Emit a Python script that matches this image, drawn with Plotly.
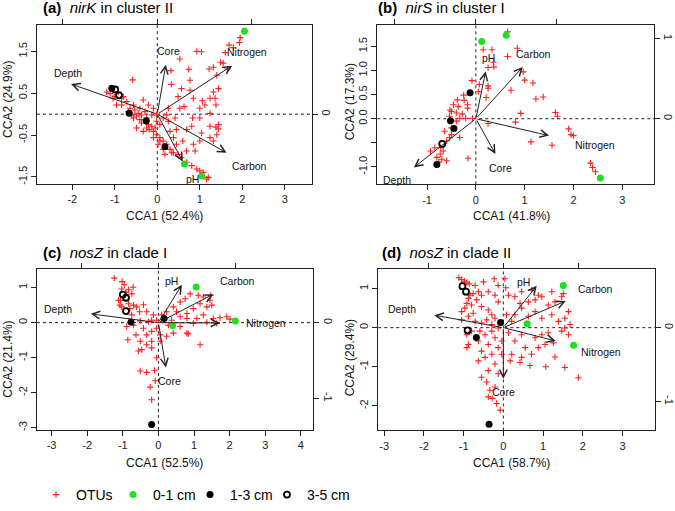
import plotly.graph_objects as go

# ---------------- DATA ----------------
var_names = ["Depth", "Core", "Nitrogen", "Carbon", "pH"]

# (a) nirK in cluster II
a_otu_x = [1.95, 1.93, 1.69, 1.79, 1.60, 1.49, 1.55, 1.32, 1.22, 1.65, 1.40, 0.93, 1.04, 0.53, 0.74, 0.32, 0.77, 0.33,
           -0.58, 1.44, 1.32, 1.24, 1.36, 1.38, 1.12, 1.00, 1.24, 0.63, 0.53, 0.83, 1.00, 0.81, 1.24, 1.38, 1.44, 1.04,
           1.24, 1.32, 1.00, 0.85, 0.89, 0.69, 0.60, 0.45, 0.38, 0.30, 0.26, 0.22, 0.42, -0.33, -0.41, -0.56, -0.72,
           -0.96, -0.80, -0.92, -0.84, -0.64, -0.53, -0.45, -0.37, -0.25, -0.21, -0.13, -0.09, -0.02, 0.06, 0.14, 0.22,
           0.30, 0.38, 0.49, 0.57, 0.69, 0.81, 0.93, 1.00, 1.08, 1.20, 1.16, -0.05, -0.19, 0.02, 0.14, 0.18, 0.34, -0.13,
           -0.29, -0.02, 0.06, -0.09, 0.26, -1.19, -1.11, -1.00, -1.04, -0.49, -0.33, -0.56, 0.57, 0.77, 0.49, 0.85,
           1.06, 1.44, 1.40, 0.69, 0.45, 0.14, -0.02, -0.21, -0.41, -0.84, -0.68, -0.60, -0.49, -0.37, -0.25, -0.09, 0.06]
a_otu_y = [1.83, 1.71, 1.65, 1.59, 1.47, 1.24, 1.22, 1.12, 1.08, 1.08, 0.93, 1.50, 1.49, 1.32, 1.07, 1.04, 0.81, 0.71,
           0.82, 0.61, 0.53, 0.38, 0.38, 0.22, 0.22, 0.14, 0.02, 0.18, 0.14, -0.09, -0.09, -0.29, -0.29, -0.31, -0.35,
           -0.45, -0.56, -0.64, -0.64, -0.72, -0.88, -0.88, -0.64, -0.72, -0.56, -0.41, -0.17, -0.02, -0.09, 0.34, 0.14,
           0.22, 0.30, 0.22, 0.42, 0.53, 0.38, 0.14, 0.10, 0.02, -0.02, -0.09, -0.25, -0.29, -0.41, -0.49, -0.56, -0.64,
           -0.72, -0.84, -0.92, -0.96, -1.04, -1.15, -1.23, -1.31, -1.35, -1.39, -1.51, -1.55, -0.33, -0.37, -0.72,
           -0.84, -0.96, -0.92, -0.02, 0.06, -0.17, -0.25, 0.14, 0.14, 0.53, 0.49, 0.42, 0.38, -0.33, -0.41, -0.09, 0.61,
           0.57, 0.42, 0.38, 0.32, -0.25, -0.49, -0.37, -0.37, -0.09, -0.02, 0.22, -0.13, 0.22, 0.06, -0.02, -0.05,
           -0.21, -0.33, -0.56, -0.64]
a_s01_x = [2.05, 0.64, 1.05]
a_s01_y = [1.98, -1.19, -1.48]
a_s13_x = [-0.66, -0.26, 0.18, -1.07]
a_s13_y = [0.02, -0.16, -0.78, 0.62]
a_s35_x = [-0.99, -0.90]
a_s35_y = [0.59, 0.45]
a_arrow_x = [-2.03, 0.20, 1.76, 1.63, 0.60]
a_arrow_y = [0.72, 1.18, 1.16, -0.92, -1.13]
a_label_x = [-2.10, 0.26, 2.10, 2.16, 0.83]
a_label_y = [0.99, 1.50, 1.49, -1.23, -1.55]

# (b) nirS in cluster I
b_otu_x = [0.65, 0.15, 0.33, 0.85, 0.65, 0.36, 0.37, 0.25, 0.97, 1.00, 1.17, -0.08, 0.07, 0.25, 0.25, 0.72, 1.23, 1.38,
           0.21, -0.25, -0.38, -0.24, -0.17, -0.50, -0.40, -0.28, -0.33, -0.21, -0.54, -0.07, 0.25, 0.81, 0.92, 1.63,
           1.67, 1.90, 1.95, 2.00, 1.56, 1.13, 2.35, 2.39, 2.45, -0.16, -0.33, -0.50, -0.64, -0.50, -0.54, -0.60, -0.72,
           -0.67, -0.73, -0.80, -0.70, -0.76, -0.93, -0.84, -0.60, -0.40, -0.46, -0.53, -0.36, 0.05, -0.17]
b_otu_y = [1.80, 1.43, 1.43, 1.46, 1.29, 1.17, 1.07, 1.06, 0.97, 0.80, 0.74, 0.79, 0.71, 0.68, 0.63, 0.59, 0.41, 0.45,
           0.44, 0.49, 0.39, 0.38, 0.29, 0.15, 0.12, 0.10, 0.01, 0.01, 0.05, 0.01, -0.10, -0.07, 0.11, 0.13, 0.05,
           -0.21, -0.33, -0.35, -0.55, -0.48, -0.92, -1.01, -1.10, -0.82, -0.39, -0.19, -0.26, -0.33, -0.39, -0.46,
           -0.60, -0.67, -0.73, -0.80, -0.84, -0.90, -0.67, -0.60, -0.87, -0.05, 0.29, 0.18, 0.25, 0.56, 0.22]
b_s01_x = [0.12, 0.62, 2.55]
b_s01_y = [1.60, 1.73, -1.23]
b_s13_x = [-0.12, -0.52, -0.45, -0.80]
b_s13_y = [0.54, -0.04, -0.20, -0.95]
b_s35_x = [-0.69]
b_s35_y = [-0.52]
b_arrow_x = [-1.27, 0.40, 1.50, 0.96, 0.20]
b_arrow_y = [-1.01, -0.73, -0.35, 1.07, 0.98]
b_label_x = [-1.61, 0.51, 2.45, 1.19, 0.25]
b_label_y = [-1.27, -1.02, -0.55, 1.34, 1.26]

# (c) nosZ in clade I
c_otu_x = [-1.24, -1.02, -0.96, -0.71, -0.84, -1.03, -1.06, -1.08, -0.84, -0.70, -0.61, -0.80, -0.75, -0.53, -0.42,
           -0.33, -0.14, -0.05, -0.19, -0.51, -0.70, -0.89, -0.86, -0.63, -0.42, -0.33, -0.19, -0.05, -0.51, -0.33,
           -0.47, -0.19, 0.05, 0.23, -0.56, -0.51, -0.33, -0.11, -0.09, -0.23, -0.19, 0.23, 0.42, 0.61, 0.75, 0.89,
           1.12, 1.26, 1.45, 1.50, 1.36, 1.17, 0.98, 0.80, 0.61, 0.80, 1.08, 1.26, 1.54, 1.73, 1.92, 2.01, 1.64, 1.36,
           0.98, 0.61, 0.80, 0.84, 0.42, 1.17, 0.28, 0.09, 0.37, 0.51, 1.47, -0.91, -0.75, -1.12, -1.03, -0.28, -0.19,
           -0.05, 0.05]
c_otu_y = [1.27, 1.17, 1.08, 1.01, 0.94, 0.96, 0.63, 0.50, 0.54, 0.50, 0.45, 0.40, 0.22, 0.31, 0.51, 0.31, 0.22, 0.07,
           0.07, 0.05, -0.07, -0.11, -0.49, -0.35, -0.16, -0.35, -0.25, -0.16, -0.53, -0.63, -0.77, -0.72, -0.53,
           -0.39, -0.81, -1.38, -1.42, -1.36, -1.66, -1.84, -2.20, 0.31, 0.45, 0.59, 0.68, 0.82, 0.78, 0.73, 0.64,
           0.50, 0.45, 0.54, 0.40, 0.26, 0.17, 0.12, 0.12, 0.22, 0.12, 0.14, 0.17, 0.10, -0.02, 0.01, -0.02, -0.11,
           -0.30, -0.32, -0.30, -0.63, -0.07, 0.22, 0.07, 0.31, 0.78, 0.87, 0.82, 0.64, 0.45, 0.03, -0.53, -1.00, -0.35]
c_s01_x = [1.06, 0.40, 2.16]
c_s01_y = [1.02, -0.08, 0.05]
c_s13_x = [0.16, -0.77, -0.19]
c_s13_y = [0.12, 0.02, -2.91]
c_s35_x = [-1.00, -0.91, -0.91]
c_s35_y = [0.80, 0.71, 0.33]
c_arrow_x = [-1.90, 0.21, 1.73, 1.54, 0.66]
c_arrow_y = [0.25, -1.28, -0.01, 0.81, 1.08]
c_label_x = [-2.83, 0.30, 3.02, 2.22, 0.37]
c_label_y = [0.38, -1.66, -0.01, 1.18, 1.19]

# (d) nosZ in clade II
d_otu_x = [-1.12, -1.05, -0.98, -0.92, -0.86, -0.71, -0.76, -0.88, -0.92, -0.80, -0.67, -0.55, -0.38, -0.23, 0.06, 0.13,
           -0.55, -0.38, -0.29, -0.76, -0.88, -1.05, -0.71, -0.55, -0.42, -0.21, -0.88, -0.92, -0.63, -0.46, -0.29,
           -0.21, -0.38, -0.55, -0.63, -0.46, -0.29, -0.13, -0.04, -0.04, -0.21, -0.38, -0.55, -0.42, -0.34, -0.38,
           -0.28, -0.21, -0.13, -0.08, -0.17, 0.21, 0.17, 0.46, 0.42, 0.71, 0.67, 1.07, 1.30, 1.89, 1.55, 0.29, 0.46,
           0.80, 0.97, 1.13, 1.47, 1.64, 1.68, 1.55, 1.39, 1.22, 0.97, 0.80, 0.63, 0.46, 0.29, 0.21, 0.97, 1.13, 1.30,
           1.47, 1.51, 1.22, 0.80, 0.63, 0.42, 0.29, 0.46, 0.71, 0.88, 1.64, 1.55, 1.26, 1.05, 0.88, 0.55, 0.13, 0.08,
           -0.13, -0.21, -0.63, -0.50, -0.13, 0.04, -0.92, -0.80, -0.59, -0.29, -0.13, -1.05, -0.97, -0.84]
d_otu_y = [1.28, 1.23, 1.19, 1.16, 1.12, 1.08, 0.87, 0.75, 0.62, 0.58, 0.71, 0.83, 0.92, 1.25, 1.02, 0.83, 0.54, 0.45,
           0.33, 0.37, 0.29, 0.20, 0.16, 0.12, 0.20, 0.24, -0.43, -0.51, -0.34, -0.18, -0.09, -0.26, -0.43, -0.60,
           -0.85, -0.76, -0.68, -0.51, -0.34, -0.68, -0.93, -1.10, -1.27, -1.39, -1.60, -1.77, -1.81, -1.52, -1.18,
           -2.11, -1.94, -0.68, -0.85, -0.76, -0.89, -0.68, -0.97, -1.00, -0.75, -1.28, -1.02, -0.34, -0.18, -0.26,
           -0.18, -0.13, -0.09, -0.18, 0.08, 0.24, 0.16, 0.33, 0.24, 0.41, 0.29, 0.50, 0.33, 0.16, 0.79, 0.58, 0.66,
           0.79, 0.87, 0.92, 0.71, 0.66, 0.62, 0.79, 0.92, 0.96, 0.83, 0.41, -0.01, -0.39, -0.43, -0.51, -0.51, -0.13,
           0.33, 0.66, 0.83, 0.92, 1.17, 1.08, 1.25, -0.18, -0.09, -0.09, 0.08, -0.01, 0.41, 0.50, 0.83]
d_s01_x = [1.51, 0.60, 1.77]
d_s01_y = [1.08, 0.10, -0.45]
d_s13_x = [-0.07, -0.68, -0.36]
d_s13_y = [0.13, -0.25, -2.47]
d_s35_x = [-1.03, -0.94, -0.90]
d_s35_y = [1.06, 0.92, -0.07]
d_arrow_x = [-1.74, 0.00, 1.32, 1.57, 0.84]
d_arrow_y = [0.32, -1.31, -0.34, 0.68, 1.07]
d_label_x = [-2.56, 0.00, 2.46, 2.32, 0.50]
d_label_y = [0.47, -1.65, -0.62, 1.00, 1.18]

titles = ["<b>(a)</b>\u00a0\u00a0<i>nirK</i> in cluster II",
          "<b>(b)</b>\u00a0\u00a0<i>nirS</i> in cluster I",
          "<b>(c)</b>\u00a0\u00a0<i>nosZ</i> in clade I",
          "<b>(d)</b>\u00a0\u00a0<i>nosZ</i> in clade II"]
xtitles = ["CCA1 (52.4%)", "CCA1 (41.8%)", "CCA1 (52.5%)", "CCA1 (58.7%)"]
ytitles = ["CCA2 (24.9%)", "CCA2 (17.3%)", "CCA2 (21.4%)", "CCA2 (29.4%)"]

x_tickvals = [[-2, -1, 0, 1, 2, 3], [-1, 0, 1, 2, 3], [-3, -2, -1, 0, 1, 2, 3, 4], [-3, -2, -1, 0, 1, 2, 3]]
x_ticktext = [["-2", "-1", "0", "1", "2", "3"], ["-1", "0", "1", "2", "3"],
              ["-3", "-2", "-1", "0", "1", "2", "3", "4"], ["-3", "-2", "-1", "0", "1", "2", "3"]]
y_tickvals = [[-1.5, -0.5, 0.5, 1.5], [-1.0, -0.5, 0.0, 0.5, 1.0, 1.5], [-3, -2, -1, 0, 1], [-2, -1, 0, 1]]
y_ticktext = [["-1.5", "-0.5", "0.5", "1.5"], ["-1.0", "", "0.0", "0.5", "1.0", "1.5"],
              ["-3", "-2", "-1", "0", "1"], ["-2", "-1", "0", "1"]]
sec_tickvals = [-1, 0, 1]
sec_ticktext = ["-1", "0", "1"]

legend_names = ["OTUs", "0-1 cm", "1-3 cm", "3-5 cm"]

panels = [
    (a_otu_x, a_otu_y, a_s01_x, a_s01_y, a_s13_x, a_s13_y, a_s35_x, a_s35_y, a_arrow_x, a_arrow_y, a_label_x, a_label_y),
    (b_otu_x, b_otu_y, b_s01_x, b_s01_y, b_s13_x, b_s13_y, b_s35_x, b_s35_y, b_arrow_x, b_arrow_y, b_label_x, b_label_y),
    (c_otu_x, c_otu_y, c_s01_x, c_s01_y, c_s13_x, c_s13_y, c_s35_x, c_s35_y, c_arrow_x, c_arrow_y, c_label_x, c_label_y),
    (d_otu_x, d_otu_y, d_s01_x, d_s01_y, d_s13_x, d_s13_y, d_s35_x, d_s35_y, d_arrow_x, d_arrow_y, d_label_x, d_label_y),
]

# ---------------- LAYOUT / STYLE ----------------
W, H = 675, 511
FONT = "Liberation Sans, Arial, Helvetica, sans-serif"
INK = "#222222"
boxes = [(37, 312, 25, 187), (377.3, 654, 25, 187.3), (37, 313.3, 273.3, 436.7), (378.3, 655, 273.3, 437.3)]
xranges = [(-2.83, 3.64), (-2.02, 3.65), (-3.41, 4.35), (-3.15, 3.82)]
yranges = [(-1.67, 2.14), (-1.36, 1.95), (-3.06, 1.53), (-2.63, 1.50)]
ratios = [0.4507, 0.6025, 0.4623, 0.529]
title_pos = [(41, 8), (376, 8), (41, 257), (380, 257)]
xtitle_pos = [(164, 219), (511, 219), (164, 470), (511, 470)]
ytitle_pos = [(8.5, 101), (350, 104), (8.5, 365), (350, 364)]

fig = go.Figure()
annotations = []
shapes = []
layout = {}

for i, pdata in enumerate(panels):
    (ox, oy, gx, gy, bx, by, hx, hy, arx, ary, lbx, lby) = pdata
    n = i + 1
    s = n + 4
    xr = "x" if n == 1 else f"x{n}"
    yr = "y" if n == 1 else f"y{n}"
    xk = "xaxis" if n == 1 else f"xaxis{n}"
    yk = "yaxis" if n == 1 else f"yaxis{n}"
    x0, x1, y0, y1 = boxes[i]
    show = (i == 0)

    fig.add_trace(go.Scatter(x=ox, y=oy, mode="markers", name=legend_names[0], showlegend=show,
                             xaxis=xr, yaxis=yr, hoverinfo="skip",
                             marker=dict(symbol="cross-thin", size=4.5, color="#ff2020",
                                         line=dict(color="#ff2020", width=1.1))))
    fig.add_trace(go.Scatter(x=gx, y=gy, mode="markers", name=legend_names[1], showlegend=show,
                             xaxis=xr, yaxis=yr, hoverinfo="skip",
                             marker=dict(symbol="circle", size=7, color="#1ee01e", line=dict(width=0))))
    fig.add_trace(go.Scatter(x=bx, y=by, mode="markers", name=legend_names[2], showlegend=show,
                             xaxis=xr, yaxis=yr, hoverinfo="skip",
                             marker=dict(symbol="circle", size=7, color="#000000", line=dict(width=0))))
    fig.add_trace(go.Scatter(x=hx, y=hy, mode="markers", name=legend_names[3], showlegend=show,
                             xaxis=xr, yaxis=yr, hoverinfo="skip",
                             marker=dict(symbol="circle-open", size=6, color="#000000", line=dict(width=1.8))))
    # dummy trace to create the secondary (top/right) axes
    fig.add_trace(go.Scatter(x=[], y=[], xaxis=f"x{s}", yaxis=f"y{s}", showlegend=False, hoverinfo="skip"))

    layout[xk] = dict(domain=[x0 / W, x1 / W], range=list(xranges[i]), anchor=yr, automargin=False,
                      showline=True, linecolor=INK, linewidth=1, mirror=True,
                      ticks="outside", ticklen=5, tickwidth=1, tickcolor=INK,
                      tickvals=x_tickvals[i], ticktext=x_ticktext[i],
                      tickfont=dict(size=11, color=INK, family=FONT), showgrid=False, zeroline=False)
    layout[yk] = dict(domain=[1 - y1 / H, 1 - y0 / H], range=list(yranges[i]), anchor=xr, automargin=False,
                      showline=True, linecolor=INK, linewidth=1, mirror=True,
                      ticks="outside", ticklen=5, tickwidth=1, tickcolor=INK,
                      tickvals=y_tickvals[i], ticktext=y_ticktext[i], tickangle=-90,
                      tickfont=dict(size=11, color=INK, family=FONT), showgrid=False, zeroline=False)
    r = ratios[i]
    layout[f"xaxis{s}"] = dict(overlaying=xr, side="top", anchor=yr, automargin=False,
                               range=[xranges[i][0] * r, xranges[i][1] * r],
                               ticks="outside", ticklen=5, tickwidth=1, tickcolor=INK,
                               tickvals=sec_tickvals, showticklabels=False,
                               showgrid=False, zeroline=False, showline=False)
    layout[f"yaxis{s}"] = dict(overlaying=yr, side="right", anchor=xr, automargin=False,
                               range=[yranges[i][0] * r, yranges[i][1] * r],
                               ticks="outside", ticklen=5, tickwidth=1, tickcolor=INK,
                               tickvals=sec_tickvals, ticktext=sec_ticktext, tickangle=90,
                               tickfont=dict(size=11, color=INK, family=FONT),
                               showgrid=False, zeroline=False, showline=False)

    shapes.append(dict(type="line", xref=f"{xr} domain", yref=yr, x0=0, x1=1, y0=0, y1=0,
                       line=dict(color=INK, width=1, dash="dot"), layer="below"))
    shapes.append(dict(type="line", xref=xr, yref=f"{yr} domain", x0=0, x1=0, y0=0, y1=1,
                       line=dict(color=INK, width=1, dash="dot"), layer="below"))

    for k in range(len(var_names)):
        annotations.append(dict(x=arx[k], y=ary[k], ax=0, ay=0, xref=xr, yref=yr, axref=xr, ayref=yr,
                                text="", showarrow=True, arrowhead=5, arrowsize=1.5, arrowwidth=1,
                                arrowcolor=INK))
        annotations.append(dict(x=lbx[k], y=lby[k], xref=xr, yref=yr, text=var_names[k], showarrow=False,
                                font=dict(size=10.5, color="#111111", family=FONT)))

    tx, ty = title_pos[i]
    annotations.append(dict(x=tx / W, y=1 - ty / H, xref="paper", yref="paper", text=titles[i],
                            showarrow=False, xanchor="left", yanchor="middle",
                            font=dict(size=15, color="#000000", family=FONT)))
    ax_, ay_ = xtitle_pos[i]
    annotations.append(dict(x=ax_ / W, y=1 - ay_ / H, xref="paper", yref="paper", text=xtitles[i],
                            showarrow=False, xanchor="center", yanchor="middle",
                            font=dict(size=12, color="#111111", family=FONT)))
    bx_, by_ = ytitle_pos[i]
    annotations.append(dict(x=bx_ / W, y=1 - by_ / H, xref="paper", yref="paper", text=ytitles[i],
                            showarrow=False, xanchor="center", yanchor="middle", textangle=-90,
                            font=dict(size=12, color="#111111", family=FONT)))

# invisible spacer entry so the last legend label is not clipped by the fixed entry width
fig.add_trace(go.Scatter(x=[None], y=[None], mode="markers", name="\u00a0", showlegend=True,
                         hoverinfo="skip", marker=dict(size=1, opacity=0, color="white")))

fig.update_layout(
    width=W, height=H,
    margin=dict(l=0, r=0, t=0, b=0),
    paper_bgcolor="white", plot_bgcolor="white",
    font=dict(family=FONT, color=INK),
    showlegend=True,
    legend=dict(orientation="h", x=36 / W, xanchor="left", y=1 - 503 / H, yanchor="middle",
                font=dict(size=14, color="#000000", family=FONT), bgcolor="rgba(0,0,0,0)",
                itemwidth=30, tracegroupgap=0, entrywidth=32, entrywidthmode="pixels",
                itemclick=False, itemdoubleclick=False),
    annotations=annotations,
    shapes=shapes,
    **layout,
)

fig.write_html("out.html", config={"displayModeBar": False},
               post_script="document.body.style.margin='0px';document.body.style.padding='0px';")
